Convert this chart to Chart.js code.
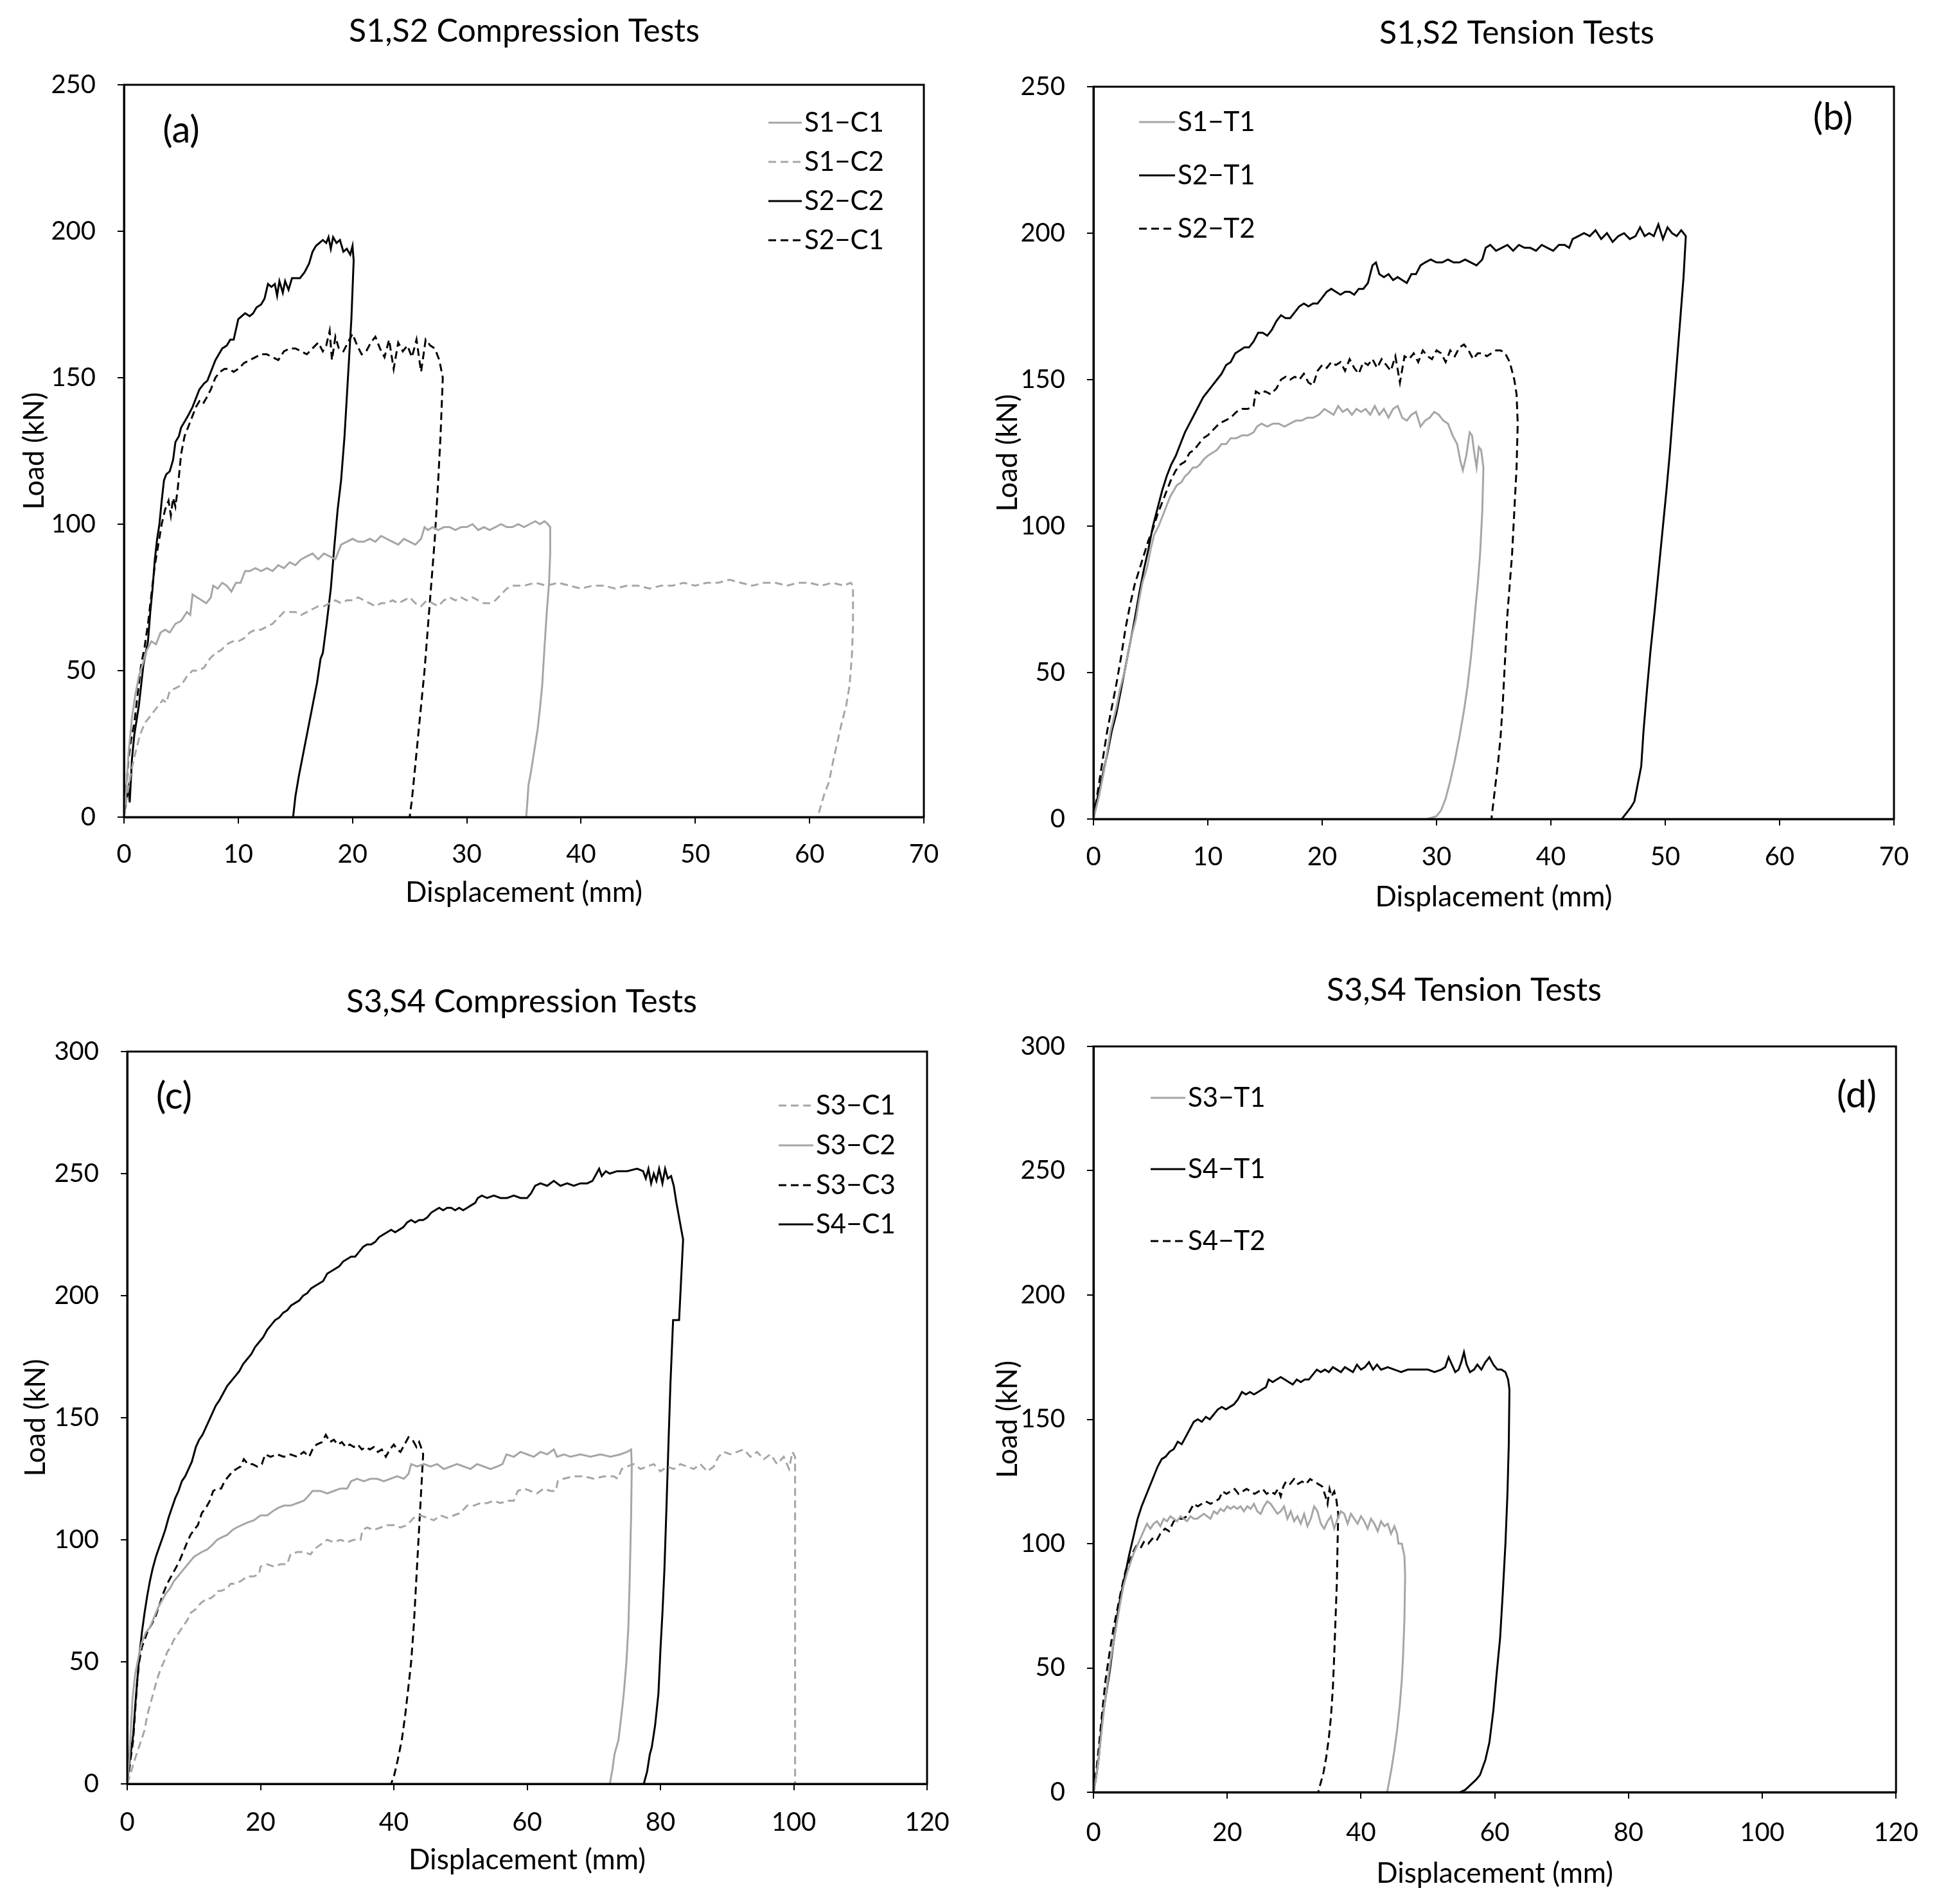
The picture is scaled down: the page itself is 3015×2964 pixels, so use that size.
<!DOCTYPE html>
<html>
<head>
<meta charset="utf-8">
<title>Load-displacement curves</title>
<script src="https://cdn.jsdelivr.net/npm/chart.js@4.4.1/dist/chart.umd.min.js"></script>
<style>
  body { margin: 0; background: #fff; }
  #wrap { position: relative; width: 3015px; height: 2964px; background: #fff; }
  #wrap canvas { position: absolute; }
</style>
</head>
<body>
<div id="wrap">
  <canvas id="chartA" width="1507" height="1482" style="left:0;top:0"></canvas>
  <canvas id="chartB" width="1508" height="1482" style="left:1507px;top:0"></canvas>
  <canvas id="chartC" width="1507" height="1482" style="left:0;top:1482px"></canvas>
  <canvas id="chartD" width="1508" height="1482" style="left:1507px;top:1482px"></canvas>
</div>
<script>
// ---- data: [displacement mm, load kN] ----
const s1c1 = [[0,0],[0.2,10],[0.4,22],[0.7,34],[1.0,42],[1.3,48],[1.7,53],[2.0,57],[2.4,60],[2.8,59],[3.2,63],[3.6,64],[4.0,63],[4.5,66],[5.0,67],[5.5,70],[5.8,69],[6.0,76],[6.4,75],[6.8,74],[7.2,73],[7.6,75],[7.8,79],[8.2,78],[8.6,80],[9.0,79],[9.4,77],[9.8,80],[10.2,80],[10.6,84],[11.0,84],[11.5,85],[12.0,84],[12.5,85],[13.0,84],[13.5,86],[14.0,85],[14.5,87],[15.0,86],[15.5,88],[16.0,89],[16.5,90],[17.0,88],[17.5,90],[18.0,89],[18.5,88],[19.0,93],[19.5,94],[20.0,95],[20.5,94],[21.0,94],[21.5,95],[22.0,94],[22.5,96],[23.0,95],[23.5,94],[24.0,93],[24.5,95],[25.0,94],[25.5,93],[26.0,95],[26.3,99],[26.6,98],[27.0,99],[27.5,98],[28.0,99],[28.5,99],[29.0,98],[29.5,99],[30.0,99],[30.5,100],[31.0,98],[31.5,99],[32.0,98],[32.5,99],[33.0,100],[33.5,99],[34.0,99],[34.5,100],[35.0,99],[35.5,100],[36.0,101],[36.4,100],[36.8,101],[37.1,100],[37.3,99],[37.3,90],[37.2,80],[37.0,70],[36.8,58],[36.6,45],[36.4,37],[36.2,30],[36.0,25],[35.8,20],[35.6,15],[35.4,11],[35.3,5],[35.2,0]];
const s1c2 = [[0,0],[0.3,8],[0.6,15],[1.0,22],[1.4,28],[1.8,32],[2.2,34],[2.6,36],[3.0,38],[3.4,40],[3.7,39],[4.0,43],[4.5,44],[5.0,45],[5.5,48],[6.0,50],[6.5,50],[7.0,51],[7.5,54],[8.0,56],[8.5,57],[9.0,59],[9.5,60],[10.0,60],[10.5,61],[11.0,63],[11.5,64],[12.0,64],[12.5,65],[13.0,66],[13.5,68],[14.0,70],[14.5,70],[15.0,70],[15.5,69],[16.0,70],[16.5,71],[17.0,72],[17.5,72],[18.0,73],[18.5,74],[19.0,73],[19.5,74],[20.0,74],[20.5,75],[21.0,74],[21.5,73],[22.0,72],[22.5,73],[23.0,73],[23.5,74],[24.0,73],[24.5,74],[25.0,75],[25.5,73],[26.0,72],[26.5,74],[27.0,73],[27.5,72],[28.0,74],[28.5,75],[29.0,74],[29.5,75],[30.0,74],[30.5,75],[31.0,74],[31.5,73],[32.0,73],[32.5,74],[33.0,76],[33.5,78],[34.0,79],[35.0,79],[36.0,80],[37.0,79],[38.0,80],[39.0,79],[40.0,78],[41.0,79],[42.0,79],[43.0,78],[44.0,79],[45.0,79],[46.0,78],[47.0,79],[48.0,79],[49.0,80],[50.0,79],[51.0,80],[52.0,80],[53.0,81],[54.0,80],[55.0,79],[56.0,80],[57.0,80],[58.0,79],[59.0,80],[60.0,80],[61.0,79],[62.0,80],[63.0,79],[63.6,80],[63.8,79],[63.8,65],[63.7,55],[63.5,45],[63.2,38],[62.8,32],[62.4,25],[62.0,18],[61.7,12],[61.3,8],[61.0,4],[60.7,0]];
const s2c2 = [[0,0],[0.2,6],[0.4,10],[0.5,5],[0.7,20],[0.9,28],[1.1,33],[1.3,38],[1.5,45],[1.7,52],[1.9,56],[2.1,60],[2.3,70],[2.5,78],[2.7,88],[2.9,95],[3.1,100],[3.3,108],[3.5,115],[3.7,117],[4.0,118],[4.3,122],[4.5,128],[4.8,130],[5.0,133],[5.3,135],[5.6,137],[6.0,140],[6.3,143],[6.6,146],[7.0,148],[7.3,149],[7.6,152],[8.0,156],[8.3,158],[8.6,160],[9.0,161],[9.3,163],[9.6,163],[10.0,170],[10.3,171],[10.6,172],[11.0,171],[11.3,172],[11.6,174],[12.0,175],[12.3,177],[12.6,182],[12.9,181],[13.2,182],[13.4,178],[13.6,183],[13.9,179],[14.1,183],[14.4,180],[14.7,184],[15.0,184],[15.4,184],[15.8,186],[16.2,189],[16.5,193],[16.8,195],[17.1,196],[17.4,197],[17.7,196],[17.9,198],[18.1,194],[18.3,198],[18.6,196],[18.9,197],[19.2,193],[19.5,194],[19.8,192],[20.0,195],[20.1,190],[19.9,170],[19.6,150],[19.3,130],[19.0,115],[18.7,105],[18.4,92],[18.1,78],[17.7,65],[17.4,56],[17.2,54],[16.9,46],[16.5,38],[16.1,30],[15.7,22],[15.3,14],[15.0,7],[14.8,0]];
const s2c1 = [[0,0],[0.2,10],[0.4,20],[0.6,26],[0.9,32],[1.2,42],[1.5,52],[1.8,58],[2.1,66],[2.4,76],[2.7,86],[3.0,93],[3.3,100],[3.6,105],[3.9,108],[4.1,103],[4.3,109],[4.5,106],[4.7,112],[5.0,124],[5.3,130],[5.6,133],[6.0,137],[6.3,140],[6.6,142],[6.9,141],[7.2,143],[7.6,146],[8.0,150],[8.4,152],[8.8,153],[9.2,153],[9.6,152],[10.0,153],[10.5,155],[11.0,156],[11.5,157],[12.0,158],[12.5,158],[13.0,157],[13.5,156],[14.0,159],[14.5,160],[15.0,160],[15.5,159],[16.0,158],[16.5,160],[17.0,162],[17.4,159],[17.7,161],[18.0,166],[18.2,156],[18.5,164],[18.8,160],[19.2,159],[19.6,162],[20.0,165],[20.4,161],[20.8,158],[21.2,159],[21.6,162],[22.0,164],[22.4,160],[22.8,157],[23.2,163],[23.6,153],[24.0,162],[24.4,159],[24.8,161],[25.2,157],[25.6,163],[26.0,152],[26.4,163],[26.8,161],[27.2,160],[27.6,156],[27.9,150],[27.7,130],[27.5,115],[27.2,95],[26.9,80],[26.6,65],[26.3,50],[26.0,38],[25.7,26],[25.4,14],[25.2,6],[25.0,0]];

const s1t1 = [[0,0],[0.5,8],[1.0,18],[1.5,30],[2.0,38],[2.3,44],[2.7,50],[3.0,56],[3.3,62],[3.7,68],[4.0,75],[4.3,81],[4.7,86],[5.0,92],[5.3,97],[5.7,100],[6.0,103],[6.3,106],[6.7,110],[7.0,112],[7.3,114],[7.7,115],[8.0,117],[8.3,118],[8.7,120],[9.0,120],[9.3,121],[9.7,123],[10.0,124],[10.4,125],[10.8,126],[11.2,128],[11.6,128],[12.0,130],[12.5,130],[13.0,131],[13.5,131],[14.0,132],[14.3,134],[14.7,135],[15.2,134],[15.7,135],[16.2,135],[16.7,134],[17.2,135],[17.7,136],[18.2,136],[18.7,137],[19.2,137],[19.7,138],[20.2,140],[20.6,139],[21.0,138],[21.4,141],[21.8,139],[22.2,140],[22.6,138],[23.0,140],[23.4,139],[23.8,140],[24.2,138],[24.6,141],[25.0,138],[25.4,140],[25.8,137],[26.2,140],[26.6,141],[27.0,137],[27.4,136],[27.8,138],[28.2,139],[28.6,134],[29.0,136],[29.4,137],[29.8,139],[30.2,138],[30.6,136],[31.0,135],[31.4,131],[31.8,128],[32.1,122],[32.3,119],[32.6,124],[32.9,132],[33.1,131],[33.3,125],[33.5,120],[33.7,127],[33.9,126],[34.1,120],[34.0,105],[33.8,90],[33.6,80],[33.4,72],[33.2,63],[33.0,55],[32.7,45],[32.4,37],[32.0,28],[31.6,20],[31.2,13],[30.8,7],[30.4,3],[30.0,1],[29.2,0]];
const s2t1 = [[0,0],[0.4,8],[0.8,15],[1.2,22],[1.6,30],[2.0,36],[2.4,44],[2.8,52],[3.2,60],[3.6,68],[4.0,77],[4.4,85],[4.8,92],[5.2,100],[5.6,106],[6.0,112],[6.4,117],[6.8,121],[7.2,124],[7.6,128],[8.0,132],[8.4,135],[8.8,138],[9.2,141],[9.6,144],[10.0,146],[10.4,148],[10.8,150],[11.2,152],[11.6,155],[12.0,156],[12.4,159],[12.8,160],[13.2,161],[13.6,161],[14.0,163],[14.4,166],[14.8,166],[15.2,165],[15.6,167],[16.0,170],[16.4,172],[16.8,171],[17.2,171],[17.6,173],[18.0,175],[18.4,176],[18.8,175],[19.2,176],[19.6,176],[20.0,178],[20.4,180],[20.8,181],[21.2,180],[21.6,179],[22.0,180],[22.4,180],[22.8,179],[23.2,181],[23.6,181],[24.0,183],[24.4,189],[24.7,190],[25.0,186],[25.4,185],[25.8,186],[26.2,184],[26.6,185],[27.0,184],[27.4,183],[27.8,186],[28.2,186],[28.6,189],[29.0,190],[29.5,191],[30.0,190],[30.5,190],[31.0,191],[31.5,190],[32.0,190],[32.5,191],[33.0,190],[33.5,189],[34.0,191],[34.3,195],[34.7,196],[35.2,194],[35.7,195],[36.2,196],[36.7,194],[37.2,196],[37.7,195],[38.2,195],[38.7,194],[39.2,196],[39.7,195],[40.2,194],[40.7,196],[41.2,196],[41.6,195],[41.9,198],[42.4,199],[42.9,200],[43.4,199],[43.9,201],[44.4,198],[44.9,200],[45.4,197],[45.9,199],[46.4,200],[46.9,198],[47.4,199],[47.8,202],[48.2,199],[48.6,200],[49.0,199],[49.4,203],[49.8,198],[50.2,202],[50.6,200],[51.0,199],[51.4,201],[51.8,199],[51.6,185],[51.3,170],[51.0,155],[50.7,140],[50.4,125],[50.1,112],[49.8,100],[49.5,88],[49.1,72],[48.7,57],[48.4,44],[48.1,30],[47.9,18],[47.6,12],[47.3,6],[47.0,4],[46.6,2],[46.2,0]];
const s2t2 = [[0,0],[0.4,10],[0.8,20],[1.2,30],[1.6,38],[2.0,46],[2.4,55],[2.8,65],[3.2,73],[3.6,80],[4.0,85],[4.4,90],[4.8,95],[5.2,99],[5.6,104],[6.0,108],[6.4,112],[6.8,116],[7.2,119],[7.6,121],[8.0,122],[8.4,125],[8.8,126],[9.2,128],[9.6,130],[10.0,131],[10.5,133],[11.0,135],[11.5,136],[12.0,137],[12.5,139],[13.0,140],[13.5,140],[14.0,141],[14.2,146],[14.6,145],[15.0,146],[15.5,145],[16.0,147],[16.4,150],[16.8,151],[17.2,150],[17.6,151],[18.0,150],[18.4,152],[18.8,149],[19.2,148],[19.6,153],[20.0,155],[20.4,154],[20.8,156],[21.2,155],[21.6,156],[22.0,153],[22.4,157],[22.8,154],[23.2,152],[23.6,156],[24.0,155],[24.4,157],[24.8,154],[25.2,157],[25.6,155],[26.0,153],[26.4,158],[26.8,149],[27.2,158],[27.6,157],[28.0,159],[28.4,156],[28.8,160],[29.2,158],[29.6,157],[30.0,160],[30.4,159],[30.8,156],[31.2,160],[31.6,158],[32.0,161],[32.4,162],[32.8,160],[33.2,157],[33.6,159],[34.0,159],[34.4,158],[34.8,159],[35.2,160],[35.6,160],[36.0,159],[36.4,156],[36.8,150],[37.0,145],[37.1,135],[37.0,120],[36.8,105],[36.6,90],[36.4,80],[36.2,70],[36.0,55],[35.8,40],[35.6,28],[35.4,20],[35.1,10],[34.8,0]];

const s3c1 = [[0,0],[0.5,4],[0.9,8],[1.5,13],[2.0,17],[2.6,22],[3.0,28],[3.5,33],[4.0,38],[4.5,43],[5.0,47],[5.5,50],[6.0,54],[6.5,56],[7.0,59],[7.5,61],[8.0,63],[8.5,65],[9.0,67],[9.5,70],[10.0,71],[10.5,72],[11.0,74],[11.5,75],[12.0,76],[12.5,76],[13.0,77],[13.5,79],[14.0,79],[15.0,80],[15.5,82],[16.0,82],[17.0,83],[18.0,85],[19.0,85],[19.8,86],[20.0,89],[21.0,90],[22.0,89],[23.0,90],[24.0,90],[24.5,94],[25.5,95],[26.5,95],[27.5,94],[28.0,96],[29.0,98],[30.0,100],[31.0,99],[32.0,100],[33.0,99],[34.0,100],[35.0,100],[35.3,104],[36.0,105],[37.0,104],[38.0,105],[39.0,106],[40.0,106],[41.0,105],[42.0,106],[43.0,109],[44.0,110],[45.0,109],[46.0,108],[47.0,110],[48.0,109],[49.0,110],[50.0,111],[51.0,114],[52.0,114],[53.0,115],[54.0,115],[55.0,116],[56.0,115],[57.0,116],[58.0,116],[58.6,120],[59.5,121],[60.5,120],[61.5,119],[62.5,121],[63.5,120],[64.3,120],[64.6,124],[65.5,125],[67.0,126],[68.5,126],[70.0,125],[71.5,126],[73.0,126],[73.6,125],[74.2,129],[75.0,130],[76.0,131],[77.0,129],[78.0,130],[79.0,131],[80.0,128],[81.0,130],[82.0,129],[83.0,131],[84.0,130],[85.0,129],[86.0,131],[87.0,128],[88.0,130],[88.7,134],[89.5,136],[90.5,135],[91.5,136],[92.5,137],[93.5,134],[94.5,136],[95.5,133],[96.5,135],[97.5,131],[98.5,134],[99.3,129],[99.8,136],[100.2,134],[100.2,0]];
const s3c2 = [[0,0],[0.3,10],[0.5,20],[0.8,35],[1.2,45],[1.7,52],[2.2,58],[2.8,62],[3.4,64],[4.0,68],[4.6,72],[5.2,75],[5.8,78],[6.4,80],[7.0,83],[7.6,85],[8.2,87],[8.8,89],[9.4,91],[10.0,93],[10.6,94],[11.2,95],[12.0,96],[12.8,98],[13.5,100],[14.2,101],[15.0,102],[15.8,104],[16.4,105],[17.2,106],[18.0,107],[19.0,108],[20.0,110],[21.0,110],[22.0,112],[22.6,113],[23.5,114],[24.5,114],[25.5,115],[26.5,116],[27.2,118],[27.8,120],[29.0,120],[30.0,119],[31.0,120],[32.0,121],[33.0,121],[33.6,124],[34.5,125],[35.5,124],[36.5,125],[37.5,125],[38.5,124],[39.5,125],[40.5,126],[41.5,125],[42.2,127],[42.6,131],[43.5,130],[44.5,131],[45.5,130],[46.5,131],[47.5,129],[48.5,130],[49.5,131],[50.5,130],[51.5,129],[52.5,131],[53.5,130],[54.5,129],[55.5,130],[56.3,131],[56.9,135],[58.0,134],[59.0,136],[60.0,135],[61.0,134],[62.0,136],[63.0,135],[64.0,137],[64.5,134],[65.5,135],[66.5,134],[68.0,135],[69.5,134],[71.0,135],[72.5,134],[74.0,135],[75.0,136],[75.6,137],[75.7,130],[75.6,110],[75.4,85],[75.2,65],[74.9,50],[74.5,37],[74.1,27],[73.7,18],[73.1,12],[72.8,6],[72.4,0]];
const s3c3 = [[0,0],[0.3,6],[0.6,12],[0.9,18],[1.2,30],[1.5,42],[1.8,50],[2.2,56],[2.6,59],[3.0,62],[3.4,64],[3.8,66],[4.3,69],[4.8,73],[5.4,78],[6.0,82],[6.6,85],[7.2,88],[7.8,91],[8.4,95],[9.0,99],[9.5,102],[10.0,104],[10.6,106],[11.2,111],[11.8,113],[12.4,116],[12.9,120],[13.5,121],[14.1,121],[14.6,124],[15.2,126],[15.8,128],[16.4,129],[17.0,130],[17.5,133],[18.1,131],[18.8,131],[19.5,130],[20.2,131],[20.7,135],[21.5,134],[22.5,135],[23.5,134],[24.5,135],[25.5,134],[26.5,136],[27.3,134],[27.8,137],[28.4,139],[29.2,140],[29.8,143],[30.4,140],[31.0,141],[31.6,139],[32.2,140],[32.8,138],[33.4,139],[34.0,138],[34.6,139],[35.2,137],[35.8,138],[36.4,137],[37.0,138],[37.6,136],[38.2,137],[38.8,134],[39.4,137],[40.0,139],[40.5,137],[41.0,136],[41.6,139],[42.2,142],[42.8,141],[43.4,138],[43.8,140],[44.2,137],[44.4,135],[44.2,125],[43.9,110],[43.6,95],[43.3,80],[43.0,65],[42.6,50],[42.2,40],[41.7,28],[41.2,18],[40.6,10],[40.1,4],[39.6,0]];
const s4c1 = [[0,0],[0.3,8],[0.6,14],[0.9,20],[1.2,32],[1.5,42],[1.8,52],[2.2,62],[2.6,70],[3.0,77],[3.4,83],[3.8,88],[4.3,93],[4.8,97],[5.2,100],[5.7,104],[6.2,109],[6.7,113],[7.2,117],[7.7,120],[8.2,124],[8.7,126],[9.2,129],[9.7,132],[10.3,138],[10.8,141],[11.3,143],[11.8,146],[12.3,149],[12.8,152],[13.3,155],[13.8,157],[14.4,160],[15.0,163],[15.6,165],[16.2,167],[16.8,169],[17.4,172],[18.0,174],[18.6,176],[19.2,179],[19.8,181],[20.4,183],[21.0,186],[21.6,188],[22.2,190],[22.8,191],[23.4,193],[24.0,194],[24.6,196],[25.2,197],[25.8,198],[26.4,200],[27.0,201],[27.6,203],[28.2,204],[28.8,205],[29.4,206],[30.0,209],[30.6,210],[31.2,211],[31.8,212],[32.4,214],[33.0,215],[33.6,216],[34.2,216],[34.8,218],[35.4,220],[36.0,221],[36.6,221],[37.2,222],[37.8,224],[38.4,225],[39.0,226],[39.6,227],[40.2,226],[40.8,227],[41.4,228],[42.0,230],[42.6,231],[43.2,230],[43.8,231],[44.4,231],[45.0,232],[45.6,234],[46.2,235],[46.8,236],[47.4,235],[48.0,236],[48.6,236],[49.2,235],[49.8,236],[50.4,235],[51.0,236],[51.6,237],[52.2,238],[52.6,240],[53.2,241],[54.0,240],[55.0,241],[56.0,240],[57.0,240],[58.0,241],[59.0,240],[60.0,240],[60.6,242],[61.2,245],[62.0,246],[63.0,245],[64.0,247],[65.0,245],[66.0,246],[67.0,245],[68.0,246],[69.0,246],[69.8,247],[70.4,250],[70.8,252],[71.2,249],[71.8,251],[72.4,250],[73.5,251],[75.0,251],[76.5,252],[77.4,251],[77.8,248],[78.2,252],[78.6,246],[79.0,250],[79.4,247],[79.8,252],[80.3,246],[80.7,252],[81.1,248],[81.6,249],[82.0,245],[82.4,238],[82.8,232],[83.2,226],[83.4,223],[82.8,190],[81.9,190],[81.5,164],[81.2,139],[80.9,113],[80.6,88],[80.3,70],[80.0,55],[79.7,37],[79.2,24],[78.7,15],[78.4,12],[78.0,5],[77.5,0]];

const s3t1 = [[0,0],[0.4,6],[0.8,14],[1.2,24],[1.6,34],[2.0,42],[2.5,52],[3.0,60],[3.5,68],[4.0,76],[4.5,83],[5.0,88],[5.5,92],[6.0,96],[6.5,99],[7.0,102],[7.5,105],[8.0,108],[8.5,106],[9.0,108],[9.5,109],[10.0,107],[10.5,110],[11.0,109],[11.5,111],[12.0,110],[12.5,109],[13.0,111],[13.5,110],[14.0,109],[14.5,111],[15.0,110],[15.5,110],[16.0,111],[16.5,112],[17.0,111],[17.5,110],[18.0,113],[18.5,112],[19.0,114],[19.5,113],[20.0,115],[20.5,114],[21.0,115],[21.5,114],[22.0,115],[22.5,113],[23.0,115],[23.5,114],[24.0,116],[24.5,113],[25.0,112],[25.5,115],[26.0,117],[26.5,116],[27.0,114],[27.5,112],[28.0,113],[28.5,115],[29.0,110],[29.5,113],[30.0,109],[30.5,111],[31.0,108],[31.5,112],[32.0,107],[32.5,110],[33.0,115],[33.5,113],[34.0,108],[34.5,106],[35.0,109],[35.5,111],[36.0,106],[36.5,110],[37.0,113],[37.5,112],[38.0,108],[38.5,112],[39.0,110],[39.5,108],[40.0,111],[40.5,109],[41.0,106],[41.5,110],[42.0,108],[42.5,105],[43.0,109],[43.5,107],[44.0,108],[44.5,104],[45.0,107],[45.4,104],[45.6,100],[46.1,100],[46.5,95],[46.6,87],[46.5,70],[46.3,55],[46.1,45],[45.8,35],[45.4,25],[45.0,17],[44.6,10],[44.2,4],[43.9,0]];
const s4t1 = [[0,0],[0.4,6],[0.8,14],[1.3,29],[1.8,38],[2.4,48],[3.0,60],[3.5,70],[4.0,78],[4.7,87],[5.3,95],[6.0,103],[6.6,110],[7.2,115],[7.8,119],[8.4,123],[9.0,127],[9.6,131],[10.2,134],[10.8,135],[11.4,137],[12.0,138],[12.6,141],[13.2,140],[13.8,143],[14.4,146],[15.0,149],[15.6,150],[16.2,149],[16.8,151],[17.4,150],[18.0,152],[18.6,154],[19.2,155],[19.8,154],[20.4,155],[21.0,156],[21.6,158],[22.2,161],[22.8,160],[23.4,161],[24.0,160],[24.6,161],[25.2,162],[25.8,163],[26.2,166],[26.8,165],[27.4,166],[28.0,167],[28.6,166],[29.2,165],[29.8,164],[30.4,166],[31.0,165],[31.6,166],[32.2,166],[32.8,168],[33.4,170],[34.0,169],[34.6,170],[35.2,169],[35.8,171],[36.4,170],[37.0,169],[37.6,171],[38.2,170],[38.8,169],[39.4,172],[40.0,170],[40.6,171],[41.2,173],[41.8,170],[42.4,172],[43.0,170],[44.0,171],[45.0,170],[46.0,169],[47.0,170],[48.0,170],[49.0,170],[50.0,170],[51.0,169],[52.0,170],[52.6,171],[53.1,175],[53.6,172],[54.1,169],[54.6,170],[55.0,173],[55.4,177],[55.8,172],[56.3,169],[56.9,170],[57.4,172],[58.0,170],[58.6,173],[59.2,175],[59.8,172],[60.4,170],[61.0,170],[61.6,169],[62.0,166],[62.2,162],[62.1,140],[61.9,120],[61.6,100],[61.2,80],[60.8,62],[60.3,48],[59.8,33],[59.2,20],[58.6,13],[57.8,7],[57.2,5],[56.4,3],[55.6,1],[54.8,0]];
const s4t2 = [[0,0],[0.4,8],[0.8,18],[1.3,32],[1.8,45],[2.4,56],[3.0,66],[3.6,74],[4.2,82],[4.8,89],[5.4,93],[6.0,97],[6.4,99],[7.0,98],[7.6,101],[8.2,100],[8.8,102],[9.4,101],[10.0,104],[10.7,106],[11.3,105],[12.0,109],[12.6,110],[13.3,110],[14.0,111],[14.6,114],[15.0,116],[15.6,115],[16.2,116],[16.8,117],[17.5,116],[18.2,117],[18.8,118],[19.3,121],[19.9,120],[20.5,121],[21.1,122],[21.7,120],[22.3,121],[22.9,122],[23.5,121],[24.1,120],[24.7,121],[25.3,122],[25.9,120],[26.5,121],[27.1,120],[27.6,122],[28.0,119],[28.4,123],[28.8,125],[29.4,124],[30.0,126],[30.6,124],[31.2,125],[31.8,124],[32.4,126],[33.0,125],[33.6,124],[34.2,123],[34.7,119],[35.0,116],[35.3,122],[35.6,119],[36.0,121],[36.3,118],[36.6,112],[36.5,100],[36.4,85],[36.2,70],[36.0,55],[35.8,42],[35.5,30],[35.2,22],[34.8,14],[34.4,8],[34.0,4],[33.6,0]];

// axis ranges / ticks
const xTicks12 = [0, 70, 10];
const yTicks12 = [0, 250, 50];
const xTicks34 = [0, 120, 20];
const yTicks34 = [0, 300, 50];

const GRAY = '#A6A6A6';
const BLACK = '#000000';
const DASH = [12, 7];

Chart.defaults.font.family = 'Lato';
Chart.defaults.color = '#000';

// titles, panel letters, legends and the box round the plot
const panelText = {
  id: 'panelText',
  afterDraw(chart, args, o) {
    const ctx = chart.ctx;
    const a = chart.chartArea;
    ctx.save();
    ctx.strokeStyle = '#000';
    ctx.lineWidth = 3;
    ctx.strokeRect(a.left, a.top, a.right - a.left, a.bottom - a.top);

    ctx.fillStyle = '#000';
    ctx.textBaseline = 'middle';
    ctx.textAlign = 'center';
    ctx.font = '50px Lato';
    ctx.fillText(o.title, o.titleX, o.titleY);
    ctx.font = '58px Lato';
    ctx.fillText(o.label, o.labelX, o.labelY);

    ctx.font = '42px Lato';
    ctx.textAlign = 'left';
    chart.data.datasets.forEach((ds, i) => {
      const y = o.legendY[i];
      ctx.strokeStyle = ds.borderColor;
      ctx.lineWidth = 3;
      ctx.setLineDash(ds.borderDash || []);
      ctx.beginPath();
      ctx.moveTo(o.legendX[0], y);
      ctx.lineTo(o.legendX[1], y);
      ctx.stroke();
      ctx.setLineDash([]);
      ctx.fillText(ds.label, o.legendX[2], y);
    });
    ctx.restore();
  }
};

function series(label, pts, color, dashed) {
  return {
    label: label,
    data: pts.map(p => ({ x: p[0], y: p[1] })),
    borderColor: color,
    backgroundColor: color,
    borderWidth: 3,
    borderDash: dashed ? DASH : [],
    showLine: true,
    pointRadius: 0,
    tension: 0,
    fill: false
  };
}

function makeChart(id, datasets, xr, yr, box, text) {
  const canvas = document.getElementById(id);
  const W = canvas.width, H = canvas.height;
  return new Chart(canvas, {
    type: 'scatter',
    data: { datasets: datasets },
    plugins: [panelText],
    options: {
      responsive: false,
      animation: false,
      devicePixelRatio: 1,
      layout: {
        padding: {
          left: box.left - 170,
          top: box.top,
          right: W - box.right,
          bottom: H - box.bottom - 170
        }
      },
      plugins: {
        legend: { display: false },
        tooltip: { enabled: false },
        panelText: text
      },
      scales: {
        x: {
          type: 'linear',
          min: xr[0], max: xr[1],
          afterFit: s => { s.height = 170; },
          ticks: { stepSize: xr[2], font: { size: 40 }, padding: box.xPad, maxRotation: 0 },
          grid: { drawOnChartArea: false, drawTicks: true, tickLength: 10, color: '#000', lineWidth: 2 },
          border: { display: true, color: '#000', width: 3 },
          title: { display: true, text: 'Displacement (mm)', font: { size: 44 }, padding: { top: 0, bottom: box.xTitlePad } }
        },
        y: {
          type: 'linear',
          min: yr[0], max: yr[1],
          afterFit: s => { s.width = 170; },
          ticks: { stepSize: yr[2], font: { size: 40 }, padding: 34 },
          grid: { drawOnChartArea: false, drawTicks: true, tickLength: 10, color: '#000', lineWidth: 2 },
          border: { display: true, color: '#000', width: 3 },
          title: { display: true, text: 'Load (kN)', font: { size: 44 }, padding: { top: box.yTitlePad, bottom: 0 } }
        }
      }
    }
  });
}

makeChart('chartA', [
  series('S1\u2212C1', s1c1, GRAY, false),
  series('S1\u2212C2', s1c2, GRAY, true),
  series('S2\u2212C2', s2c2, BLACK, false),
  series('S2\u2212C1', s2c1, BLACK, true)
], xTicks12, yTicks12,
  { left: 193, top: 132, right: 1438, bottom: 1272, xPad: 24, xTitlePad: 26, yTitlePad: 4 },
  { title: 'S1,S2 Compression Tests', titleX: 816, titleY: 49, label: '(a)', labelX: 282, labelY: 203,
    legendX: [1196, 1248, 1252], legendY: [191, 252, 313, 374] });

makeChart('chartB', [
  series('S1\u2212T1', s1t1, GRAY, false),
  series('S2\u2212T1', s2t1, BLACK, false),
  series('S2\u2212T2', s2t2, BLACK, true)
], xTicks12, yTicks12,
  { left: 195, top: 135, right: 1441, bottom: 1275, xPad: 25, xTitlePad: 22, yTitlePad: 10 },
  { title: 'S1,S2 Tension Tests', titleX: 854, titleY: 52, label: '(b)', labelX: 1346, labelY: 183,
    legendX: [266, 322, 326], legendY: [190, 273, 356] });

makeChart('chartC', [
  series('S3\u2212C1', s3c1, GRAY, true),
  series('S3\u2212C2', s3c2, GRAY, false),
  series('S3\u2212C3', s3c3, BLACK, true),
  series('S4\u2212C1', s4c1, BLACK, false)
], xTicks34, yTicks34,
  { left: 198, top: 155, right: 1443, bottom: 1295, xPad: 26, xTitlePad: 25, yTitlePad: 1 },
  { title: 'S3,S4 Compression Tests', titleX: 812, titleY: 78, label: '(c)', labelX: 271, labelY: 225,
    legendX: [1212, 1266, 1270], legendY: [239, 301, 363, 424] });

makeChart('chartD', [
  series('S3\u2212T1', s3t1, GRAY, false),
  series('S4\u2212T1', s4t1, BLACK, false),
  series('S4\u2212T2', s4t2, BLACK, true)
], xTicks34, yTicks34,
  { left: 195, top: 147, right: 1446, bottom: 1308, xPad: 29, xTitlePad: 17, yTitlePad: 10 },
  { title: 'S3,S4 Tension Tests', titleX: 772, titleY: 60, label: '(d)', labelX: 1383, labelY: 223,
    legendX: [284, 338, 342], legendY: [227, 338, 450] });
</script>
</body>
</html>
